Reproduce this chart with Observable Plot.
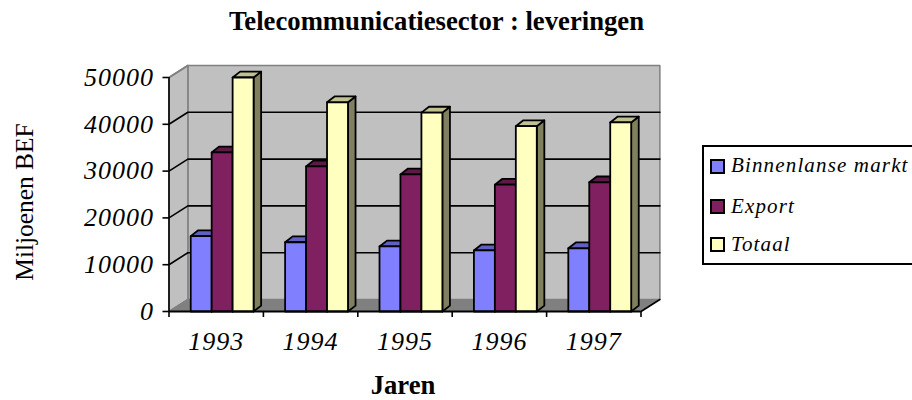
<!DOCTYPE html>
<html><head><meta charset="utf-8">
<script src="https://cdn.jsdelivr.net/npm/d3@7"></script>
<script src="https://cdn.jsdelivr.net/npm/@observablehq/plot@0.6"></script>
<style>
html,body{margin:0;padding:0;background:#fff;width:912px;height:400px;overflow:hidden}
#wrap{position:relative;width:912px;height:400px;font-family:"Liberation Serif",serif;color:#000}
#wrap svg{position:absolute;left:0;top:0;background:transparent}
#wrap svg text{letter-spacing:1px}
.lab{position:absolute;white-space:nowrap}
#title{left:229px;top:6px;font-weight:bold;font-size:26.7px}
#ytitle{left:24px;top:201.5px;font-size:25.4px;transform:translate(-50%,-50%) rotate(-90deg)}
#xtitle{left:403px;top:374.5px;transform:translateX(-50%);font-weight:bold;font-size:26.7px;line-height:.75}
#legend{position:absolute;left:702px;top:145px;width:210px;height:120px;border:2px solid #000;border-right:0;box-sizing:border-box}
.it{position:absolute;left:6px;height:20px}
.sw{position:absolute;left:0;top:3px;width:15px;height:15px;border:2px solid #000;box-sizing:border-box}
.tx{position:absolute;left:21px;font-style:italic;font-size:21px;letter-spacing:1.15px;white-space:nowrap}
</style></head><body>
<div id="wrap">
<div id="title" class="lab">Telecommunicatiesector : leveringen</div>
<div id="ytitle" class="lab">Miljoenen BEF</div>
<div id="xtitle" class="lab">Jaren</div>
</div>
<script>
const years = ["1993","1994","1995","1996","1997"];
const binnenlanseMarkt = [16100,14800,13900,13050,13500];
const exportValues = [34000,31000,29300,27100,27600];
const totaal = [50000,44700,42500,39600,40400];
const yTicks = [0,10000,20000,30000,40000,50000];
const seriesNames = ["Binnenlanse markt","Export","Totaal"];
const seriesValues = [binnenlanseMarkt,exportValues,totaal];
const frontColors = ["#8080ff","#802060","#ffffc0"];
const topColors = ["#6060c0","#601848","#c0c090"];
const sideColors = ["#404080","#401030","#808060"];

const wallDx = 0.2, wallDy = 2564;
const barDx = 0.08, barDy = 1250;
const barStart = 0.23, barWidth = 0.222;

const face = pts => pts.map(([x,y]) => ({x,y}));
const poly = (pts, o) => Plot.line(face(pts), {x:"x", y:"y", curve:"linear-closed", ...o});
const yMax = 50000;

const marks = [
  poly([[wallDx,wallDy],[5+wallDx,wallDy],[5+wallDx,yMax+wallDy],[wallDx,yMax+wallDy]], {fill:"#c0c0c0", stroke:"#808080", strokeWidth:1.5}),
  poly([[0,0],[wallDx,wallDy],[wallDx,yMax+wallDy],[0,yMax]], {fill:"#c0c0c0", stroke:"#808080", strokeWidth:1.5}),
  poly([[0,0],[5,0],[5+wallDx,wallDy],[wallDx,wallDy]], {fill:"#808080", stroke:"#808080", strokeWidth:1}),
  ...yTicks.slice(1,5).map(v => Plot.line(face([[0,v],[wallDx,v+wallDy],[5+wallDx,v+wallDy]]), {x:"x",y:"y",stroke:"#000",strokeWidth:1.6})),
  Plot.line(face([[0,yMax],[wallDx,yMax+wallDy]]), {x:"x",y:"y",stroke:"#808080",strokeWidth:1.5}),
  Plot.line(face([[5,0],[5+wallDx,wallDy]]), {x:"x",y:"y",stroke:"#000",strokeWidth:1.6}),
  Plot.line(face([[0,0],[wallDx,wallDy]]), {x:"x",y:"y",stroke:"#808080",strokeWidth:1}),
];

seriesValues.forEach((vals, s) => {
  vals.forEach((v, i) => {
    const x0 = i + barStart + s*barWidth, x1 = x0 + barWidth;
    const st = {stroke:"#000", strokeWidth:1.8, strokeLinejoin:"round"};
    marks.push(
      poly([[x1,0],[x1+barDx,barDy],[x1+barDx,v+barDy],[x1,v]], {fill:sideColors[s], ...st}),
      poly([[x0,v],[x1,v],[x1+barDx,v+barDy],[x0+barDx,v+barDy]], {fill:topColors[s], ...st}),
      poly([[x0,0],[x1,0],[x1,v],[x0,v]], {fill:frontColors[s], ...st})
    );
  });
});

const font = {fontFamily:"Liberation Serif", fontStyle:"italic", fontSize:26};
marks.push(
  Plot.ruleY([0], {x1:0, x2:5, stroke:"#000", strokeWidth:2}),
  Plot.ruleX([0], {y1:0, y2:yMax, stroke:"#000", strokeWidth:1.6}),
  Plot.axisY({ticks:yTicks, tickSize:6, tickPadding:9, tickFormat:d=>String(d), label:null, stroke:"#000", strokeWidth:1.6, color:"#000", ...font}),
  Plot.axisX({ticks:[0,1,2,3,4,5], tickSize:6, tickFormat:()=>"", label:null, stroke:"#000", strokeWidth:1.6}),
  Plot.axisX({ticks:[0.5,1.5,2.5,3.5,4.5], tickSize:0, tickPadding:20, tickFormat:d=>years[d-0.5], label:null, color:"#000", ...font})
);

const chart = Plot.plot({
  width:912, height:400,
  marginLeft:168.5, marginRight:271.5, marginTop:77, marginBottom:89,
  x:{type:"linear", domain:[0,5], axis:null},
  y:{type:"linear", domain:[0,50000], axis:null},
  style:{background:"transparent", overflow:"visible"},
  marks
});
const wrap = document.getElementById("wrap");
wrap.insertBefore(chart, wrap.firstChild);

const legend = document.createElement("div");
legend.id = "legend";
const rowTops = [9,49,87];
const textTops = [-3,-2,-2];
seriesNames.forEach((n,i) => {
  const it = document.createElement("div");
  it.className = "it"; it.style.top = rowTops[i]+"px";
  const sw = document.createElement("div");
  sw.className = "sw"; sw.style.background = frontColors[i];
  const tx = document.createElement("div");
  tx.className = "tx"; tx.textContent = n; tx.style.top = textTops[i]+"px";
  it.append(sw,tx); legend.append(it);
});
wrap.append(legend);
</script>
</body></html>
